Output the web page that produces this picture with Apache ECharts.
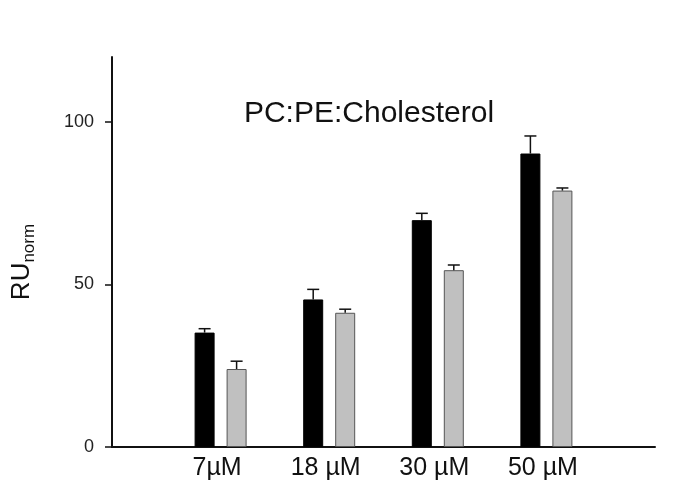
<!DOCTYPE html>
<html><head><meta charset="utf-8">
<script src="https://cdn.jsdelivr.net/npm/echarts@6/dist/echarts.min.js"></script>
<style>html,body{margin:0;padding:0;background:#fff}#c{width:685px;height:490px}</style>
</head><body><div id="c"></div>
<script>
var categories = ['7µM', '18 µM', '30 µM', '50 µM'];
var blackValues = [35.2, 45.4, 69.8, 90.3];
var blackErrors = [1.2, 3.1, 2.1, 5.4];
var grayValues = [24.0, 41.3, 54.4, 78.9];
var grayErrors = [2.4, 1.1, 1.6, 0.8];
var yTicks = [0, 50, 100];

var FONT = 'Liberation Sans, Arial, sans-serif';
var BAR_W = 20, GAP = 12;
var OFF = (BAR_W + GAP) / 2;
var axisCats = [''].concat(categories).concat(['']);
function pad(arr){ return ['-'].concat(arr).concat(['-']); }
function errData(vals, errs){
  var d = [];
  for (var i = 0; i < vals.length; i++) d.push([i + 1, vals[i], vals[i] + errs[i]]);
  return d;
}
function errRender(offset){
  return function(params, api){
    var x = api.value(0), lo = api.value(1), hi = api.value(2);
    var p0 = api.coord([x, lo]), p1 = api.coord([x, hi]);
    var cx = p0[0] + offset;
    return {type:'group', children:[
      {type:'line', shape:{x1:cx, y1:p0[1], x2:cx, y2:p1[1]}, style:{stroke:'#111', lineWidth:1.5}},
      {type:'line', shape:{x1:cx-6, y1:p1[1], x2:cx+6, y2:p1[1]}, style:{stroke:'#111', lineWidth:1.5}}
    ]};
  };
}
var chart = echarts.init(document.getElementById('c'), null, {renderer:'canvas'});
chart.setOption({
  backgroundColor:'#fff',
  animation:false,
  grid:{left:112, right:30, top:57, bottom:43},
  graphic:[
    {type:'text', x:369, y:114, style:{text:'PC:PE:Cholesterol', textAlign:'center', textVerticalAlign:'middle', fontSize:30, fontFamily:FONT, fill:'#111'}},
    {type:'text', x:22, y:262, rotation:Math.PI/2, style:{text:'{a|RU}{b|norm}', textAlign:'center', textVerticalAlign:'middle', rich:{a:{fontSize:26, fontFamily:FONT, fill:'#111'}, b:{fontSize:17, fontFamily:FONT, fill:'#111', padding:[14,0,0,0]}}}}
  ],
  xAxis:{type:'category', data:axisCats, boundaryGap:false,
    axisLine:{lineStyle:{color:'#111', width:2}},
    axisTick:{show:false},
    axisLabel:{interval:0, margin:9, fontSize:25, color:'#111', fontFamily:FONT, padding:[0,7,0,0]},
    splitLine:{show:false}},
  yAxis:{type:'value', min:0, max:120, interval:50,
    axisLine:{show:true, lineStyle:{color:'#111', width:2}},
    axisTick:{show:true, length:7, lineStyle:{color:'#111', width:1.5}, customValues:yTicks},
    axisLabel:{fontSize:18, color:'#222', margin:18, fontFamily:FONT, customValues:yTicks},
    splitLine:{show:false}},
  series:[
    {type:'bar', data:pad(blackValues), barWidth:BAR_W, barGap:(GAP/BAR_W*100)+'%',
     itemStyle:{color:'#000', borderColor:'#000', borderWidth:1}},
    {type:'bar', data:pad(grayValues), barWidth:BAR_W,
     itemStyle:{color:'#c0c0c0', borderColor:'#555', borderWidth:1}},
    {type:'custom', data:errData(blackValues, blackErrors), renderItem:errRender(-OFF), z:5},
    {type:'custom', data:errData(grayValues, grayErrors), renderItem:errRender(OFF), z:5}
  ]
});
</script></body></html>
